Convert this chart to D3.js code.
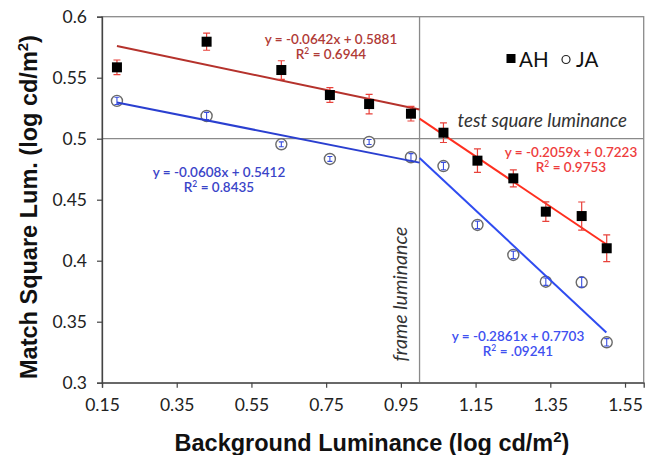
<!DOCTYPE html>
<html><head><meta charset="utf-8">
<script src="https://cdn.jsdelivr.net/npm/d3@7"></script>
<style>
html,body{margin:0;padding:0;background:#fff;}
svg{display:block;}
</style></head>
<body>
<svg id="chart" width="655" height="455"></svg>
<script>
// ---- data ----
const bgLum = [0.19, 0.43, 0.63, 0.76, 0.865, 0.977, 1.064, 1.155, 1.251, 1.338, 1.434, 1.501];
const ahMatch = [0.5585, 0.5795, 0.5563, 0.5358, 0.5284, 0.5205, 0.5049, 0.482, 0.4675, 0.4402, 0.4366, 0.4102];
const ahErr = [0.006, 0.007, 0.0076, 0.006, 0.008, 0.006, 0.008, 0.0096, 0.007, 0.008, 0.0115, 0.011];
const jaMatch = [0.531, 0.5186, 0.4954, 0.4834, 0.4973, 0.4848, 0.4776, 0.4293, 0.4047, 0.3828, 0.3823, 0.3331];
const jaErr = [0.003, 0.003, 0.002, 0.002, 0.002, 0.003, 0.003, 0.003, 0.003, 0.003, 0.004, 0.003];
const fitSlopes = [-0.0642, -0.0608, -0.2059, -0.2861];
const fitIntercepts = [0.5881, 0.5412, 0.7223, 0.7703];
const fitFrom = [0.19, 0.19, 1.0, 1.0];
const fitTo = [1.0, 1.0, 1.5, 1.5];
const fitEq = ["y = -0.0642x + 0.5881", "y = -0.0608x + 0.5412", "y = -0.2059x + 0.7223", "y = -0.2861x + 0.7703"];
const fitR2 = ["0.6944", "0.8435", "0.9753", ".09241"];
const xTicks = [0.15, 0.35, 0.55, 0.75, 0.95, 1.15, 1.35, 1.55];
const yTicks = [0.3, 0.35, 0.4, 0.45, 0.5, 0.55, 0.6];
const frameLum = 1.0;
const testLum = 0.5;

// ---- styles ----
const fitColors = ["#b5322c", "#2a3fd0", "#ff2f1f", "#2f4cf0"];
const eqColors = ["#b03a36", "#3a44c8", "#ee3c3c", "#4050f0"];
const eqPos = [[331, 44], [219, 177], [571, 157], [518, 341]];
const numFont = "Lato, 'Open Sans', sans-serif";
const boldFont = "'Liberation Sans', Arial, sans-serif";

const svg = d3.select("#chart");
const x = d3.scaleLinear().domain([0.15, 1.6]).range([102, 643.7]);
const y = d3.scaleLinear().domain([0.3, 0.6]).range([382.7, 16.7]);

// frame (top & right)
svg.append("rect").attr("x", x(0.15)).attr("y", y(0.6))
  .attr("width", x(1.6) - x(0.15)).attr("height", y(0.3) - y(0.6))
  .attr("fill", "none").attr("stroke", "#8a8a8a").attr("stroke-width", 1.3);

// reference lines
svg.append("line").attr("x1", x(0.15)).attr("x2", x(1.6)).attr("y1", y(testLum)).attr("y2", y(testLum))
  .attr("stroke", "#8a8a8a").attr("stroke-width", 1.3);
svg.append("line").attr("x1", x(frameLum)).attr("x2", x(frameLum)).attr("y1", y(0.6)).attr("y2", y(0.3))
  .attr("stroke", "#8a8a8a").attr("stroke-width", 1.3);

// axes
const xAxis = svg.append("g").attr("transform", `translate(0,${y(0.3)})`)
  .call(d3.axisBottom(x).tickValues(xTicks).tickFormat(d3.format(".2f")).tickSizeOuter(0).tickSize(5).tickPadding(11));
xAxis.select(".domain").attr("stroke", "#444").attr("stroke-width", 1.3);
xAxis.selectAll(".tick line").attr("stroke", "#444").attr("stroke-width", 1.2);
xAxis.selectAll("text").attr("font-family", numFont).attr("font-size", 17.5).attr("fill", "#222");

const yAxis = svg.append("g").attr("transform", `translate(${x(0.15)},0)`)
  .call(d3.axisLeft(y).tickValues(yTicks).tickFormat(d => d3.format("")(+d.toFixed(2))).tickSizeOuter(0).tickSize(5).tickPadding(10));
yAxis.select(".domain").attr("stroke", "#444").attr("stroke-width", 1.3);
yAxis.selectAll(".tick line").attr("stroke", "#444").attr("stroke-width", 1.2);
yAxis.selectAll("text").attr("font-family", numFont).attr("font-size", 17.5).attr("fill", "#222");

// JA circles
const ja = bgLum.map((v, i) => ({x: v, y: jaMatch[i], e: jaErr[i]}));
const jaG = svg.append("g");
jaG.selectAll("circle").data(ja).join("circle")
  .attr("cx", d => x(d.x)).attr("cy", d => y(d.y)).attr("r", 5.5)
  .attr("fill", "#fff").attr("stroke", "#6a6a6a").attr("stroke-width", 1.4);
jaG.selectAll("path").data(ja).join("path")
  .attr("d", d => {
    const cx = x(d.x), t = y(d.y + d.e), b = y(d.y - d.e);
    return `M${cx},${t}V${b}M${cx-2.5},${t}H${cx+2.5}M${cx-2.5},${b}H${cx+2.5}`;
  })
  .attr("stroke", "#3a4fe0").attr("stroke-width", 1.1).attr("fill", "none");

// fit lines
const fits = fitSlopes.map((m, i) => ({m, b: fitIntercepts[i], x0: fitFrom[i], x1: fitTo[i], c: fitColors[i]}));
const line = d3.line().x(d => x(d[0])).y(d => y(d[1]));
svg.append("g").selectAll("path").data(fits).join("path")
  .attr("d", f => line([[f.x0, f.m * f.x0 + f.b], [f.x1, f.m * f.x1 + f.b]]))
  .attr("stroke", f => f.c).attr("stroke-width", 2).attr("fill", "none");

// AH squares + error bars
const ah = bgLum.map((v, i) => ({x: v, y: ahMatch[i], e: ahErr[i]}));
const ahG = svg.append("g");
ahG.selectAll("path").data(ah).join("path")
  .attr("d", d => {
    const cx = x(d.x), t = y(d.y + d.e), b = y(d.y - d.e);
    return `M${cx},${t}V${b}M${cx-3.5},${t}H${cx+3.5}M${cx-3.5},${b}H${cx+3.5}`;
  })
  .attr("stroke", "#e8413a").attr("stroke-width", 1.2).attr("fill", "none");
ahG.selectAll("rect").data(ah).join("rect")
  .attr("x", d => x(d.x) - 5).attr("y", d => y(d.y) - 5).attr("width", 10).attr("height", 10)
  .attr("fill", "#000");

// equations
fitEq.forEach((eq, i) => {
  const t = svg.append("text").attr("x", eqPos[i][0]).attr("y", eqPos[i][1])
    .attr("text-anchor", "middle").attr("font-family", numFont).attr("font-size", 13.5)
    .attr("font-weight", 600).attr("fill", eqColors[i]);
  t.text(eq);
  const r = svg.append("text").attr("x", eqPos[i][0]).attr("y", eqPos[i][1] + 14.5)
    .attr("text-anchor", "middle").attr("font-family", numFont).attr("font-size", 13.5)
    .attr("font-weight", 600).attr("fill", eqColors[i]);
  r.append("tspan").text("R");
  r.append("tspan").attr("font-size", 8.5).attr("dy", -5).text("2");
  r.append("tspan").attr("dy", 5).text(" = " + fitR2[i]);
});

// annotations
svg.append("text").attr("x", 627).attr("y", 127).attr("text-anchor", "end")
  .attr("font-family", numFont).attr("font-style", "italic").attr("font-size", 18.7).attr("fill", "#333")
  .text("test square luminance");
svg.append("text").attr("transform", `translate(407,294) rotate(-90)`).attr("text-anchor", "middle")
  .attr("font-family", numFont).attr("font-style", "italic").attr("font-size", 19.5).attr("fill", "#333")
  .text("frame luminance");

// legend
svg.append("rect").attr("x", 506.5).attr("y", 54).attr("width", 9).attr("height", 9).attr("fill", "#000");
svg.append("text").attr("x", 519).attr("y", 66.5).attr("font-family", numFont).attr("font-size", 20.5).attr("fill", "#111").text("AH");
svg.append("circle").attr("cx", 566).attr("cy", 59.5).attr("r", 4).attr("fill", "#fff").attr("stroke", "#222").attr("stroke-width", 1.2);
svg.append("text").attr("x", 576).attr("y", 66.5).attr("font-family", numFont).attr("font-size", 20.5).attr("fill", "#111").text("JA");

// axis titles
const xt = svg.append("text").attr("x", 372).attr("y", 451).attr("text-anchor", "middle")
  .attr("font-family", boldFont).attr("font-weight", "bold").attr("font-size", 23.5).attr("fill", "#111");
xt.append("tspan").text("Background Luminance (log cd/m");
xt.append("tspan").attr("font-size", 15).attr("dy", -9).text("2");
xt.append("tspan").attr("dy", 9).text(")");

const yt = svg.append("text").attr("transform", "translate(37,207) rotate(-90)").attr("text-anchor", "middle")
  .attr("font-family", boldFont).attr("font-weight", "bold").attr("font-size", 23.5).attr("fill", "#111");
yt.append("tspan").text("Match Square Lum. (log cd/m");
yt.append("tspan").attr("font-size", 15).attr("dy", -9).text("2");
yt.append("tspan").attr("dy", 9).text(")");
</script>
</body></html>
